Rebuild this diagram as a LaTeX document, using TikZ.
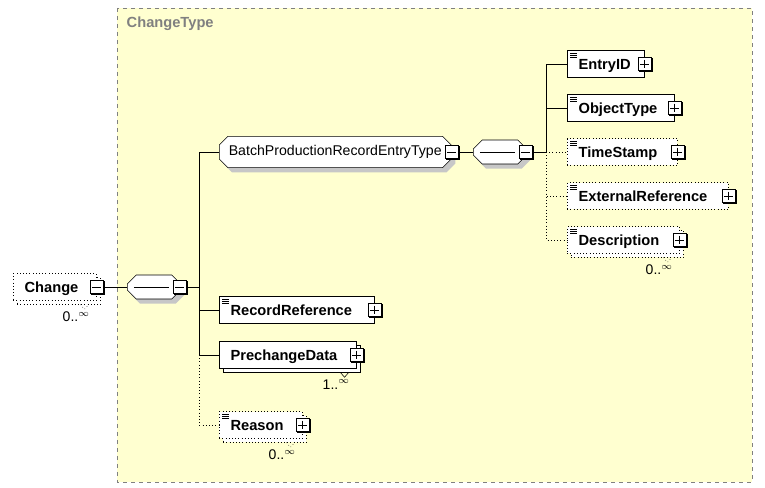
\documentclass[tikz,border=0pt]{standalone}
\usepackage{fontspec}
\setmainfont{Liberation Sans}
\usetikzlibrary{shapes.misc,shadows,positioning}
\definecolor{typebg}{RGB}{255,255,208}
\definecolor{typeline}{RGB}{128,128,128}
\tikzset{
  elem/.style={draw,fill=white,minimum height=20pt,inner xsep=0pt,inner ysep=2pt,align=left,anchor=west,
      text height=8pt,text depth=0pt,font=\fontsize{11}{13}\selectfont\bfseries,execute at begin node=\hspace*{8.5pt}},
  optional/.style={dotted},
  stacked/.style={copy shadow={shadow xshift=3pt,shadow yshift=-3pt,#1}},
  stacked/.default=,
  typed/.style={path picture={\foreach \k in {0,1,2}
      \draw[solid] ([shift={(2.2pt,-2pt-\k*1.4pt)}]path picture bounding box.north west) -- ++(4.8pt,0pt);}},
  ctrl/.style={draw,solid,fill=white,minimum size=9.5pt,inner sep=0pt,copy shadow={shadow xshift=.8pt,shadow yshift=-.8pt}},
  plus/.style={ctrl,path picture={\draw ([xshift=1.5pt]path picture bounding box.west) -- ([xshift=-1.5pt]path picture bounding box.east)
      ([yshift=-1.5pt]path picture bounding box.north) -- ([yshift=1.5pt]path picture bounding box.south);}},
  minus/.style={ctrl,path picture={\draw ([xshift=1.5pt]path picture bounding box.west) -- ([xshift=-1.5pt]path picture bounding box.east);}},
  group/.style={chamfered rectangle,chamfered rectangle xsep=3pt,draw,fill=white,minimum height=19.5pt,anchor=west,
      drop shadow={shadow xshift=3pt,shadow yshift=-3.5pt,fill=black!22,opacity=1}},
  seq/.style={group,chamfered rectangle xsep=6pt,minimum width=40pt,minimum height=18pt,
      path picture={\draw ([xshift=5pt]path picture bounding box.west) -- ++(26pt,0pt);}},
  occ/.style={anchor=north east,inner sep=0pt,font=\fontsize{10.5}{12}\selectfont},
}
\begin{document}
\begin{tikzpicture}[x=0.75pt,y=-0.75pt]
\useasboundingbox (0,0) rectangle (765,488);
\draw[typeline,dashed,fill=typebg] (117,8) rectangle (752,482);
\node[anchor=west,text=typeline,font=\fontsize{11}{13}\selectfont\bfseries] (ctype) at (122,24) {ChangeType};

\node[elem,optional,stacked=optional,text width=62.25pt] (chg) at (13,287) {Change};
\node[minus] (chgm) at (chg.east) {};
\node[seq] (seqA) at (127,287) {};
\node[minus] (seqAm) at ([xshift=-1pt]seqA.east) {};
\coordinate (jA) at (199,287);

\node[group,minimum width=174pt,font=\fontsize{10.6}{12}\selectfont] (bpr) at (219,152) {BatchProductionRecordEntryType};
\node[minus] (bprm) at (bpr.east) {};
\node[seq] (seqB) at (473,152) {};
\node[minus] (seqBm) at ([xshift=-1pt]seqB.east) {};
\coordinate (jB) at (546,152);

\node[elem,typed,text width=57.75pt] (eid) at (567,64) {EntryID};
\node[elem,typed,text width=80.25pt] (otype) at (567,108) {ObjectType};
\node[elem,typed,optional,text width=82.5pt] (tstamp) at (567,152) {TimeStamp};
\node[elem,typed,optional,text width=120.75pt] (extref) at (567,196) {ExternalReference};
\node[elem,typed,optional,stacked=optional,text width=84pt] (desc) at (567,240) {Description};
\foreach \n in {eid,otype,tstamp,extref,desc} \node[plus] (\n p) at (\n.east) {};

\node[elem,typed,text width=116.25pt] (rref) at (219,310) {RecordReference};
\node[elem,stacked,text width=102.75pt] (pdata) at (219,355) {PrechangeData};
\node[elem,typed,optional,stacked=optional,text width=62.25pt] (reason) at (219,425) {Reason};
\foreach \n in {rref,pdata,reason} \node[plus] (\n p) at (\n.east) {};

\draw (chgm) -- (seqA);
\draw (seqAm.east) -- (jA) |- (bpr.west);
\draw (jA) |- (rref.west);
\draw (jA) |- (pdata.west);
\draw[optional] (jA |- pdata.west) |- (reason.west);
\draw (bprm) -- (seqB);
\draw (seqBm.east) -- (jB) |- (eid.west);
\draw (jB) |- (otype.west);
\draw[optional] (jB) |- (tstamp.west);
\draw[optional] (jB) |- (extref.west);
\draw[optional] (jB) |- (desc.west);

\draw[optional] ([xshift=-12pt,yshift=-3pt]chg.south east) -- ++(3pt,-3.5pt) -- ++(3pt,3.5pt);
\draw[optional] ([xshift=-12pt,yshift=-3pt]desc.south east) -- ++(3pt,-3.5pt) -- ++(3pt,3.5pt);
\draw ([xshift=-12pt,yshift=-3pt]pdata.south east) -- ++(3pt,-3.5pt) -- ++(3pt,3.5pt);
\draw[optional] ([xshift=-12pt,yshift=-3pt]reason.south east) -- ++(3pt,-3.5pt) -- ++(3pt,3.5pt);
\node[occ] (chgocc) at ([xshift=-5pt,yshift=-8pt]chg.south east) {0..\textsuperscript{$\infty$}};
\node[occ] (descocc) at ([xshift=-5pt,yshift=-8pt]desc.south east) {0..\textsuperscript{$\infty$}};
\node[occ] (pdataocc) at ([xshift=-5pt,yshift=-8pt]pdata.south east) {1..\textsuperscript{$\infty$}};
\node[occ] (reasonocc) at ([xshift=-5pt,yshift=-8pt]reason.south east) {0..\textsuperscript{$\infty$}};
\end{tikzpicture}
\end{document}
